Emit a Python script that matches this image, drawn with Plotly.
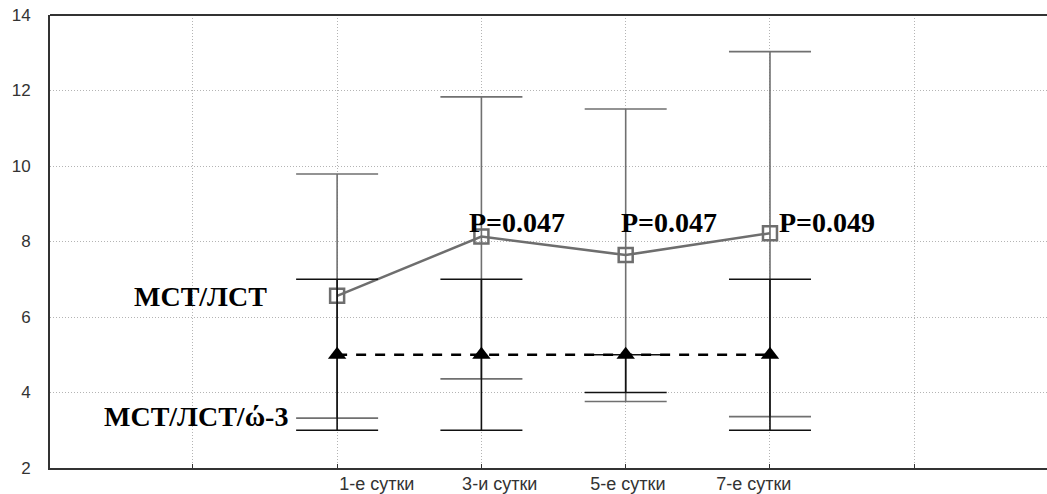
import plotly.graph_objects as go

categories = ["1-е сутки", "3-и сутки", "5-е сутки", "7-е сутки"]

# Series 1: МСТ/ЛСТ (grey, open squares)
mct_mean = [6.56, 8.13, 7.64, 8.22]
mct_upper = [9.79, 11.83, 11.51, 13.03]
mct_lower = [3.32, 4.36, 3.76, 3.36]

# Series 2: МСТ/ЛСТ/ώ-3 (black, triangles)
omega_mean = [5.0, 5.0, 5.0, 5.0]
omega_upper = [7.0, 7.0, 5.0, 7.0]
omega_lower = [3.0, 3.0, 4.0, 3.0]

p_labels = ["P=0.047", "P=0.047", "P=0.049"]

y_ticks = [2, 4, 6, 8, 10, 12, 14]

xpos = list(range(1, len(categories) + 1))
# label positions (labels in the reference are not centred on the ticks)
label_pos = [1.275, 2.127, 3.015, 3.888]
xrange_ = [-0.99, 5.92]

fig = go.Figure()

fig.add_trace(go.Scatter(
    x=xpos, y=mct_mean, mode="lines+markers",
    line=dict(color="#6e6e6e", width=2.5),
    marker=dict(symbol="square-open", size=14, color="#6e6e6e",
                line=dict(width=2.5, color="#6e6e6e")),
    error_y=dict(type="data", symmetric=False,
                 array=[u - m for u, m in zip(mct_upper, mct_mean)],
                 arrayminus=[m - l for m, l in zip(mct_mean, mct_lower)],
                 color="#707070", thickness=1.6, width=41),
    showlegend=False,
))

fig.add_trace(go.Scatter(
    x=xpos, y=omega_mean, mode="lines+markers",
    line=dict(color="black", width=2.5, dash="10px,9px"),
    marker=dict(symbol="triangle-up", size=16, color="black"),
    error_y=dict(type="data", symmetric=False,
                 array=[u - m for u, m in zip(omega_upper, omega_mean)],
                 arrayminus=[m - l for m, l in zip(omega_mean, omega_lower)],
                 color="#111111", thickness=1.6, width=41),
    showlegend=False,
))

# dummy trace on xaxis2 to carry category labels
fig.add_trace(go.Scatter(x=label_pos, y=[None] * 4, xaxis="x2",
                         mode="markers", showlegend=False, hoverinfo="skip"))

serif = "Liberation Serif, Times New Roman, serif"
fig.add_annotation(x=0.05, y=6.55, text="<b>МСТ/ЛСТ</b>", showarrow=False,
                   font=dict(family=serif, size=28, color="black"))
fig.add_annotation(x=0.02, y=3.37, text="<b>МСТ/ЛСТ/ώ-3</b>", showarrow=False,
                   font=dict(family=serif, size=28, color="black"))
for xi, txt, sh in zip(xpos[1:], p_labels, [-14, -7, 7]):
    fig.add_annotation(x=xi, y=8.5, text="<b>" + txt + "</b>", showarrow=False,
                       xanchor="left", xshift=sh,
                       font=dict(family=serif, size=28, color="black"))

# top frame line (right spine lies outside the picture)
fig.add_shape(type="line", xref="paper", yref="paper", x0=0, x1=1, y0=1, y1=1,
              line=dict(color="#333333", width=2))

fig.update_layout(
    width=1047, height=494,
    margin=dict(l=50, r=0, t=15, b=26, autoexpand=False),
    paper_bgcolor="white", plot_bgcolor="white",
    font=dict(family="Liberation Sans, Arial, sans-serif", color="#333333"),
    xaxis=dict(range=xrange_, tickvals=[0, 1, 2, 3, 4, 5], showticklabels=False,
               showgrid=True, gridcolor="#b4b4b4", griddash="1px,2px", gridwidth=1,
               showline=True, linecolor="#333333", linewidth=2,
               ticks="inside", ticklen=4, tickcolor="#333333", zeroline=False,
               automargin=False),
    xaxis2=dict(range=xrange_, overlaying="x", side="bottom", anchor="y",
                tickvals=label_pos, ticktext=categories, showgrid=False,
                showline=False, ticks="", zeroline=False, automargin=False,
                ticklabelstandoff=3, ticklabeloverflow="allow",
                tickfont=dict(size=18, color="#333333")),
    yaxis=dict(range=[2, 14], tickvals=y_ticks, showgrid=True,
               gridcolor="#b4b4b4", griddash="1px,2px", gridwidth=1,
               showline=True, linecolor="#333333", linewidth=2,
               ticks="", zeroline=False, ticklabelstandoff=14, automargin=False,
               ticklabeloverflow="allow",
               tickfont=dict(size=17, color="#333333")),
)

# remove the default page margin so the figure sits at the window's corner
fig.write_html("out.html",
               config={"displayModeBar": False},
               post_script="document.body.style.margin='0';"
                           "document.body.style.overflow='hidden';")
